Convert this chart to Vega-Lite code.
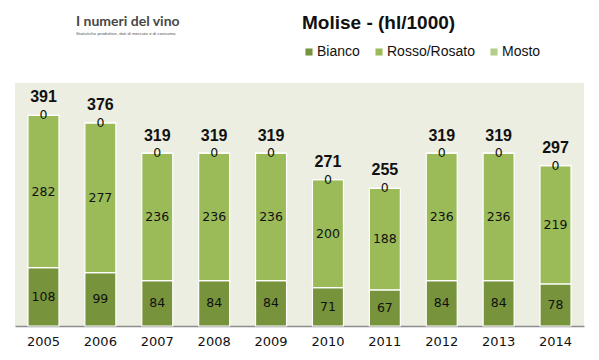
{
  "$schema": "https://vega.github.io/schema/vega-lite/v6.json",
  "width": 569,
  "height": 243,
  "autosize": {"type": "none"},
  "padding": {"left": 15, "top": 83, "right": 15, "bottom": 34},
  "background": "white",
  "title": {
    "text": "I numeri del vino",
    "subtitle": "Statistiche produttive, dati di mercato e di consumo.",
    "anchor": "start",
    "frame": "group",
    "dx": 61,
    "dy": 21,
    "offset": 0,
    "font": "Lato",
    "fontSize": 14,
    "fontWeight": "bold",
    "color": "#484848",
    "subtitleFont": "Liberation Sans",
    "subtitleFontSize": 4.4,
    "subtitleColor": "#555555",
    "subtitlePadding": 3
  },
  "datasets": {
    "valori": [
      {"anno": "2005", "tipo": "Bianco", "k": 1, "v": 108},
      {"anno": "2005", "tipo": "Rosso/Rosato", "k": 2, "v": 282},
      {"anno": "2005", "tipo": "Mosto", "k": 3, "v": 0},
      {"anno": "2006", "tipo": "Bianco", "k": 1, "v": 99},
      {"anno": "2006", "tipo": "Rosso/Rosato", "k": 2, "v": 277},
      {"anno": "2006", "tipo": "Mosto", "k": 3, "v": 0},
      {"anno": "2007", "tipo": "Bianco", "k": 1, "v": 84},
      {"anno": "2007", "tipo": "Rosso/Rosato", "k": 2, "v": 236},
      {"anno": "2007", "tipo": "Mosto", "k": 3, "v": 0},
      {"anno": "2008", "tipo": "Bianco", "k": 1, "v": 84},
      {"anno": "2008", "tipo": "Rosso/Rosato", "k": 2, "v": 236},
      {"anno": "2008", "tipo": "Mosto", "k": 3, "v": 0},
      {"anno": "2009", "tipo": "Bianco", "k": 1, "v": 84},
      {"anno": "2009", "tipo": "Rosso/Rosato", "k": 2, "v": 236},
      {"anno": "2009", "tipo": "Mosto", "k": 3, "v": 0},
      {"anno": "2010", "tipo": "Bianco", "k": 1, "v": 71},
      {"anno": "2010", "tipo": "Rosso/Rosato", "k": 2, "v": 200},
      {"anno": "2010", "tipo": "Mosto", "k": 3, "v": 0},
      {"anno": "2011", "tipo": "Bianco", "k": 1, "v": 67},
      {"anno": "2011", "tipo": "Rosso/Rosato", "k": 2, "v": 188},
      {"anno": "2011", "tipo": "Mosto", "k": 3, "v": 0},
      {"anno": "2012", "tipo": "Bianco", "k": 1, "v": 84},
      {"anno": "2012", "tipo": "Rosso/Rosato", "k": 2, "v": 236},
      {"anno": "2012", "tipo": "Mosto", "k": 3, "v": 0},
      {"anno": "2013", "tipo": "Bianco", "k": 1, "v": 84},
      {"anno": "2013", "tipo": "Rosso/Rosato", "k": 2, "v": 236},
      {"anno": "2013", "tipo": "Mosto", "k": 3, "v": 0},
      {"anno": "2014", "tipo": "Bianco", "k": 1, "v": 78},
      {"anno": "2014", "tipo": "Rosso/Rosato", "k": 2, "v": 219},
      {"anno": "2014", "tipo": "Mosto", "k": 3, "v": 0}
    ],
    "totali": [
      {"anno": "2005", "tot": 391},
      {"anno": "2006", "tot": 376},
      {"anno": "2007", "tot": 319},
      {"anno": "2008", "tot": 319},
      {"anno": "2009", "tot": 319},
      {"anno": "2010", "tot": 271},
      {"anno": "2011", "tot": 255},
      {"anno": "2012", "tot": 319},
      {"anno": "2013", "tot": 319},
      {"anno": "2014", "tot": 297}
    ]
  },
  "encoding": {
    "x": {
      "field": "anno",
      "type": "ordinal",
      "scale": {"paddingInner": 0.455, "paddingOuter": 0.228},
      "axis": {
        "title": null,
        "labelAngle": 0,
        "ticks": false,
        "domainColor": "#8c8c8c",
        "domainWidth": 1.5,
        "labelFont": "DejaVu Sans",
        "labelFontSize": 13,
        "labelColor": "#111111",
        "labelPadding": 9,
        "grid": false
      }
    }
  },
  "layer": [
    {
      "data": {"name": "valori"},
      "mark": {"type": "bar", "stroke": "white", "strokeWidth": 1.2},
      "encoding": {
        "y": {
          "field": "v",
          "type": "quantitative",
          "stack": "zero",
          "scale": {"domain": [0, 450], "nice": false},
          "axis": null
        },
        "color": {
          "field": "tipo",
          "type": "nominal",
          "scale": {
            "domain": ["Bianco", "Rosso/Rosato", "Mosto"],
            "range": ["#77933C", "#9BBB59", "#B3CD88"]
          },
          "legend": {
            "title": "Molise - (hl/1000)",
            "orient": "none",
            "legendX": 287,
            "legendY": -69,
            "direction": "horizontal",
            "titleAnchor": "start",
            "titleFont": "Liberation Sans",
            "titleFontSize": 19,
            "titleFontWeight": "bold",
            "titleColor": "#111111",
            "titlePadding": 12,
            "labelFont": "Liberation Sans",
            "labelFontSize": 14,
            "labelColor": "#111111",
            "labelOffset": 1,
            "symbolType": "square",
            "symbolSize": 50,
            "symbolStrokeWidth": 0,
            "columnPadding": 12
          }
        },
        "order": {"field": "k", "type": "quantitative"}
      }
    },
    {
      "data": {"name": "valori"},
      "mark": {"type": "text", "font": "DejaVu Sans", "fontSize": 12.5, "color": "#111111", "baseline": "middle"},
      "encoding": {
        "y": {"field": "v", "type": "quantitative", "stack": "zero", "bandPosition": 0.5},
        "detail": {"field": "tipo"},
        "order": {"field": "k", "type": "quantitative"},
        "text": {"field": "v", "type": "quantitative"}
      }
    },
    {
      "data": {"name": "totali"},
      "mark": {"type": "text", "font": "Liberation Sans", "fontSize": 16, "fontWeight": "bold", "color": "#111111", "baseline": "middle", "dy": -18},
      "encoding": {
        "y": {"field": "tot", "type": "quantitative"},
        "text": {"field": "tot", "type": "quantitative"}
      }
    }
  ],
  "config": {
    "view": {"fill": "#EBEEE0", "stroke": null}
  }
}
